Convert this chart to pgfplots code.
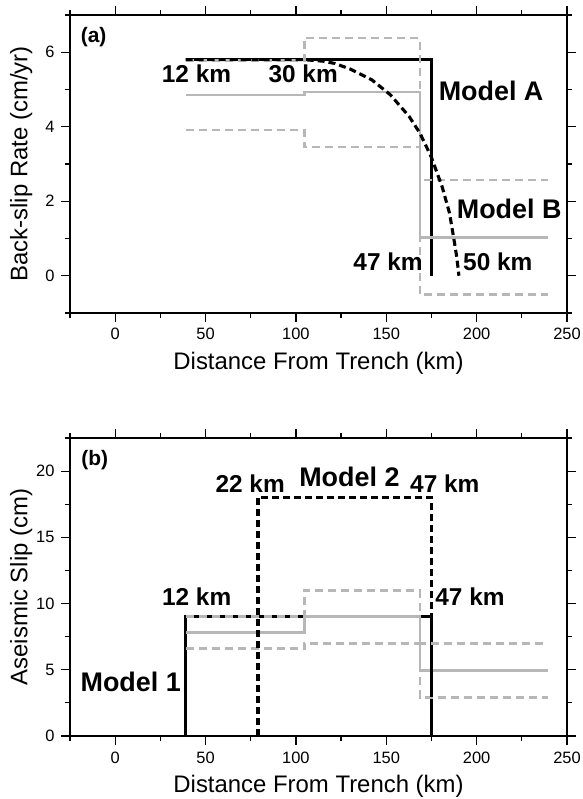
\documentclass[border=0pt]{standalone}
\usepackage{fontspec}
\setmainfont{Liberation Sans}
\usepackage{pgfplots}
\pgfplotsset{compat=1.18}
\definecolor{lg}{RGB}{183,183,183}
\pgfplotsset{
  gmt/.style={
    scale only axis, width=497bp, height=298bp,
    xmin=-25, xmax=250,
    xtick={0,50,...,250}, minor xtick={-25,25,...,225},
    tick align=outside,
    major tick length=9bp, minor tick length=5bp,
    every tick/.style={black, line width=1.2bp},
    axis line style={line width=2.1bp},
    /pgf/number format/assume math mode=true,
    ticklabel style={font=\fontsize{16.5}{18}\selectfont},
    xticklabel style={yshift=-3bp},
    yticklabel style={xshift=-3bp},
    label style={font=\fontsize{24}{28}\selectfont},
    xlabel={Distance From Trench (km)},
    xlabel style={at={(axis description cs:0.5,-0.168)}, anchor=center},
    ylabel style={at={(axis description cs:-0.098,0.5)}, anchor=center},
  },
  blk/.style={black, line width=3.1bp},
  blkd/.style={black, line width=3.1bp, dash pattern=on 7bp off 4bp},
  gry/.style={lg, line width=2.7bp},
  gryd/.style={lg, line width=2.7bp, dash pattern=on 8bp off 5bp},
}
\tikzset{
  kml/.style={font=\bfseries\fontsize{24.5}{28}\selectfont, inner sep=0pt},
  mdl/.style={font=\bfseries\fontsize{27}{30}\selectfont, inner sep=0pt},
  pnl/.style={font=\bfseries\fontsize{21}{24}\selectfont, inner sep=0pt},
}
\begin{document}
\begin{tikzpicture}
\useasboundingbox (0bp,0bp) rectangle (583bp,799bp);
% ---------- panel (a)
\begin{axis}[gmt, at={(70bp,486bp)}, anchor=south west,
  ymin=-1, ymax=7, ytick={0,2,4,6}, minor ytick={-1,1,3,5,7},
  ylabel={Back-slip Rate (cm/yr)}]
% Model A
\addplot[blk] coordinates {(39,5.8) (174.8,5.8) (174.8,0)};
% grey solid
\addplot[gry] coordinates {(39,4.85) (104.6,4.85) (104.6,4.93) (168.6,4.93) (168.6,1.02) (239.4,1.02)};
% grey dashed upper
\addplot[gryd] coordinates {(39,5.78) (104.6,5.78) (104.6,6.38) (168.6,6.38) (168.6,2.57) (239.4,2.57)};
% grey dashed lower
\addplot[gryd] coordinates {(39,3.91) (104.6,3.91) (104.6,3.46) (168.6,3.46) (168.6,-0.5) (239.4,-0.5)};
% Model B
\addplot[blkd] coordinates {(39,5.8) (104.6,5.8) (115,5.76) (121.4,5.70) (130,5.55) (142,5.26) (152.2,4.86) (162.6,4.28) (168.6,3.83) (174.8,3.2) (180.9,2.39) (185,1.68) (187.5,0.96) (189,0.5) (190.2,0)};
\node[pnl] at (axis cs:-11.9,6.42) {(a)};
\node[kml] at (axis cs:45,5.42) {12 km};
\node[kml] at (axis cs:104,5.42) {30 km};
\node[mdl] at (axis cs:208,4.97) {Model A};
\node[mdl] at (axis cs:218,1.80) {Model B};
\node[kml] at (axis cs:151,0.37) {47 km};
\node[kml] at (axis cs:211.7,0.37) {50 km};
\end{axis}
% ---------- panel (b)
\begin{axis}[gmt, at={(70bp,63bp)}, anchor=south west,
  ymin=0, ymax=22.5, ytick={0,5,...,20}, minor ytick={2.5,7.5,...,22.5},
  ylabel={Aseismic Slip (cm)}]
% Model 1
\addplot[blk] coordinates {(39,0) (39,9) (174.8,9) (174.8,0)};
% grey solid
\addplot[gry] coordinates {(39,7.81) (104.6,7.81) (104.6,9.0) (168.6,9.0) (168.6,4.92) (239.4,4.92)};
% grey dashed upper
\addplot[gryd] coordinates {(39,9.0) (104.6,9.0) (104.6,11.0) (168.6,11.0) (168.6,7.0) (239.4,7.0)};
% grey dashed lower
\addplot[gryd] coordinates {(39,6.6) (104.6,6.6) (104.6,7.0) (168.6,7.0) (168.6,2.89) (239.4,2.89)};
% Model 2
\addplot[blkd] coordinates {(79,0) (79,18.04) (174.8,18.04) (174.8,0)};
\node[pnl] at (axis cs:-11.3,20.8) {(b)};
\node[kml] at (axis cs:74.7,19.05) {22 km};
\node[mdl] at (axis cs:129.6,19.55) {Model 2};
\node[kml] at (axis cs:182.4,19.05) {47 km};
\node[kml] at (axis cs:45.1,10.55) {12 km};
\node[kml] at (axis cs:196.3,10.55) {47 km};
\node[mdl] at (axis cs:8.6,4.1) {Model 1};
\end{axis}
\end{tikzpicture}
\end{document}
